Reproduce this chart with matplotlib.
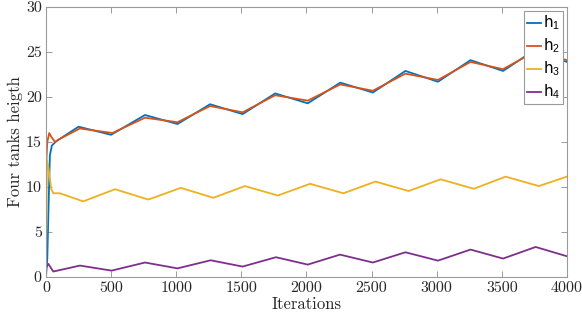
import matplotlib
matplotlib.use("Agg")
import matplotlib.pyplot as plt

plt.rcParams['mathtext.fontset'] = 'custom'
plt.rcParams['mathtext.rm'] = 'Liberation Sans'
plt.rcParams['mathtext.it'] = 'Liberation Sans:italic'

h1_x = [0, 10, 20, 30, 45, 80, 250, 500, 760, 1010, 1260, 1510, 1760, 2010, 2260, 2510, 2760, 3010, 3260, 3510, 3760, 4000]
h1_y = [0, 2, 8, 13.5, 14.6, 15.1, 16.7, 15.8, 18.0, 17.0, 19.2, 18.1, 20.4, 19.3, 21.6, 20.5, 22.9, 21.7, 24.1, 22.9, 25.3, 23.9]

h2_x = [0, 10, 25, 40, 69, 100, 260, 510, 760, 1010, 1260, 1510, 1760, 2010, 2260, 2510, 2760, 3010, 3260, 3510, 3760, 4000]
h2_y = [12.0, 15.0, 16.0, 15.6, 15.0, 15.3, 16.5, 16.0, 17.7, 17.2, 19.0, 18.3, 20.2, 19.6, 21.4, 20.7, 22.6, 21.9, 23.9, 23.1, 25.1, 24.1]

h3_x = [0, 8, 20, 40, 56, 107, 286, 530, 786, 1035, 1285, 1528, 1780, 2028, 2284, 2530, 2785, 3030, 3285, 3530, 3785, 4000]
h3_y = [1.0, 13.0, 12.0, 9.8, 9.3, 9.3, 8.4, 9.75, 8.6, 9.9, 8.8, 10.1, 9.05, 10.35, 9.3, 10.6, 9.55, 10.85, 9.8, 11.15, 10.1, 11.15]

h4_x = [0, 18, 56, 261, 504, 760, 1010, 1265, 1510, 1766, 2010, 2258, 2510, 2760, 3010, 3260, 3510, 3760, 4000]
h4_y = [1.0, 1.45, 0.6, 1.26, 0.7, 1.6, 0.95, 1.85, 1.15, 2.19, 1.37, 2.48, 1.6, 2.74, 1.81, 3.04, 2.04, 3.33, 2.3]

labels = [r'h$_1$', r'h$_2$', r'h$_3$', r'h$_4$']
colors = ['#0072BD', '#D95319', '#EDB120', '#7E2F8E']

xticks = [0, 500, 1000, 1500, 2000, 2500, 3000, 3500, 4000]
yticks = [0, 5, 10, 15, 20, 25, 30]

fig = plt.figure(figsize=(5.82, 3.22), dpi=100)
ax = fig.add_axes([0.079, 0.140, 0.895, 0.838])

for (xs, ys), lab, c in zip([(h1_x, h1_y), (h2_x, h2_y), (h3_x, h3_y), (h4_x, h4_y)], labels, colors):
    ax.plot(xs, ys, color=c, lw=1.3, label=lab)

ax.set_xlim(0, 4000)
ax.set_ylim(0, 30)
ax.set_xticks(xticks)
ax.set_yticks(yticks)
ax.set_xticklabels([str(t) for t in xticks], family='cmr10', fontsize=11.5, color='#262626')
ax.set_yticklabels([str(t) for t in yticks], family='cmr10', fontsize=11.5, color='#262626')
ax.tick_params(direction='in', top=True, right=True, length=4, width=0.6, color='#8a8a8a', pad=3)
for s in ax.spines.values():
    s.set_color('#9a9a9a')
    s.set_linewidth(0.8)

ax.set_xlabel('Iterations', family='cmr10', fontsize=12, color='#262626', labelpad=1)
ax.set_ylabel('Four tanks heigth', family='cmr10', fontsize=12, color='#262626', labelpad=2)

leg = ax.legend(loc='upper right', fontsize=11, handlelength=0.95, handletextpad=0.1,
                borderpad=0.2, labelspacing=0.3, fancybox=False, framealpha=1,
                borderaxespad=0.25)
leg.get_frame().set_edgecolor('#9a9a9a')
leg.get_frame().set_linewidth(0.8)

fig.savefig('out.png', dpi=100)
